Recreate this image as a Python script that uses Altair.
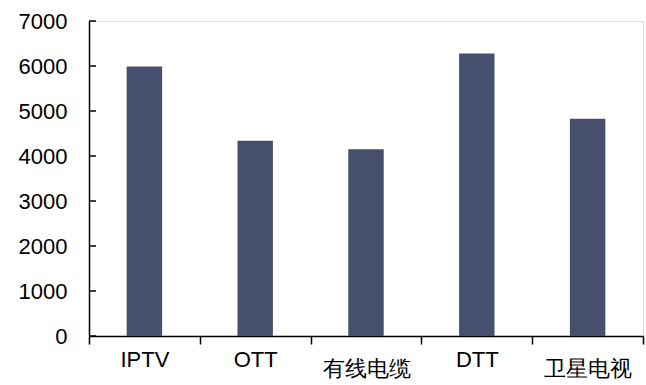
import altair as alt
import pandas as pd

# Categories and values
categories = ["IPTV", "OTT", "有线电缆", "DTT", "卫星电视"]
values = [5990, 4340, 4150, 6280, 4830]
y_ticks = [0, 1000, 2000, 3000, 4000, 5000, 6000, 7000]

df = pd.DataFrame({"category": categories, "value": values})
ticks_df = pd.DataFrame({"tick": y_ticks})

FONT = "Liberation Sans"

bars = alt.Chart(df).mark_bar(
    color="#46506E",
    width={"band": 0.32},
).encode(
    x=alt.X(
        "category:N",
        sort=categories,
        title=None,
        scale=alt.Scale(paddingInner=0, paddingOuter=0),
        axis=alt.Axis(
            labelAngle=0,
            labelFont=FONT,
            labelFontSize=22,
            labelColor="#000000",
            labelPadding={
                "condition": {"test": "test(/[A-Za-z]/, datum.label)", "value": 5},
                "value": 14,
            },
            tickBand="extent",
            tickSize=8,
            tickWidth=1.5,
            tickColor="#000000",
            domainColor="#000000",
            domainWidth=1.5,
            grid=False,
        ),
    ),
    y=alt.Y(
        "value:Q",
        title=None,
        scale=alt.Scale(domain=[0, 7000], nice=False),
        axis=alt.Axis(
            values=y_ticks,
            format="d",
            labelFont=FONT,
            labelFontSize=22,
            labelColor="#000000",
            ticks=False,
            labelPadding=22,
            domainColor="#000000",
            domainWidth=1.5,
            grid=False,
        ),
    ),
)

# Short tick marks drawn inside the plot along the value axis
inner_ticks = alt.Chart(ticks_df).mark_rule(color="#000000", strokeWidth=1.5).encode(
    y="tick:Q",
    x=alt.value(0),
    x2=alt.value(7),
)

chart = alt.layer(bars, inner_ticks).properties(
    width=554,
    height=315,
    autosize=alt.AutoSizeParams(type="none"),
    padding={"left": 89, "top": 21, "right": 3, "bottom": 49},
).configure_view(stroke=None).configure(background="#ffffff")

chart.save("out.html", embed_options={"renderer": "svg", "actions": False})
